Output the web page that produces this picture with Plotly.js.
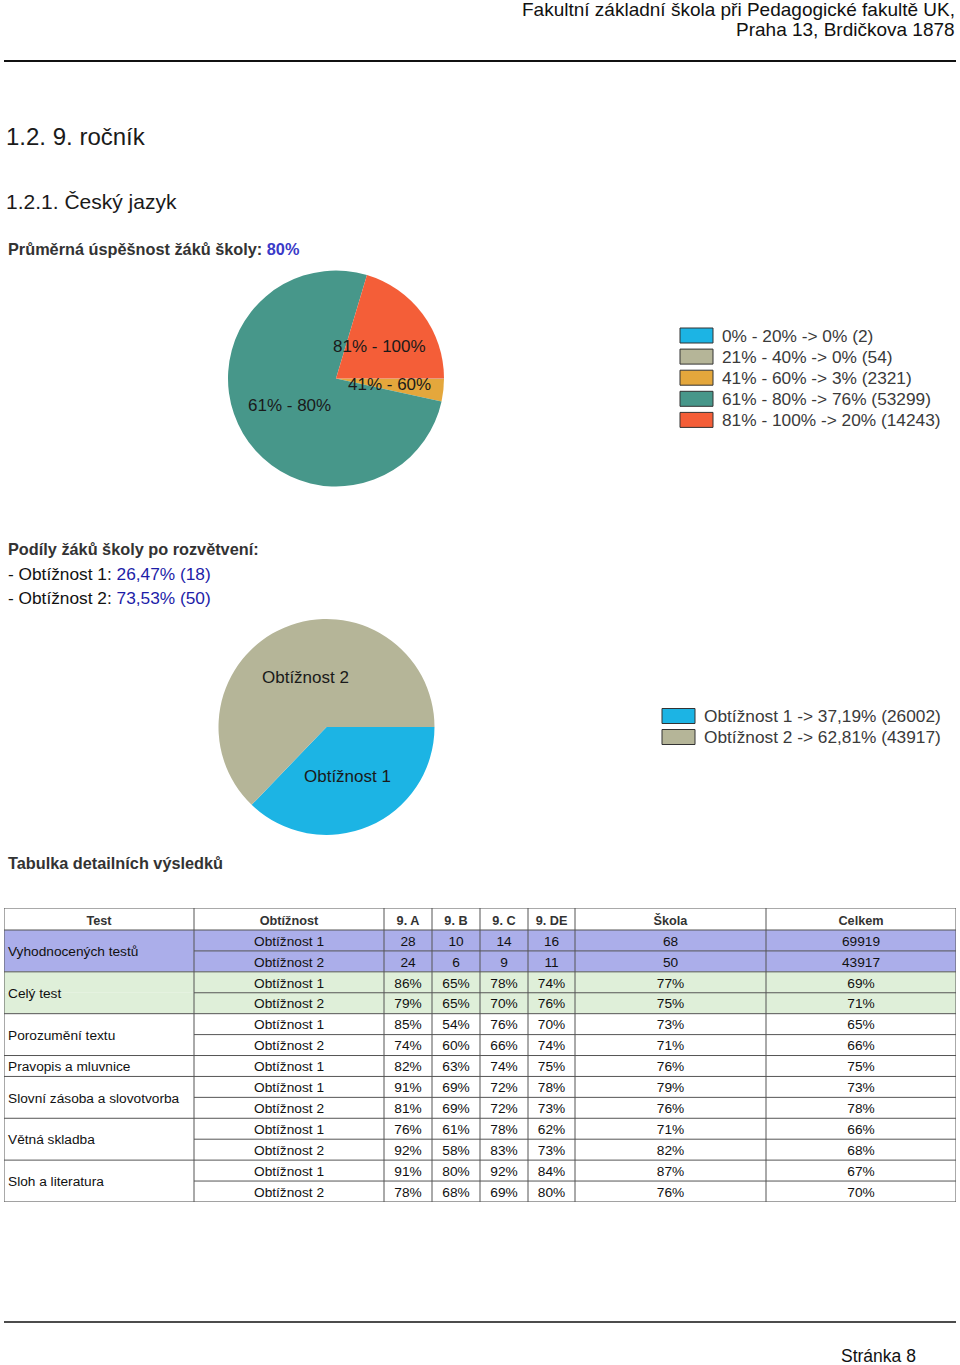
<!DOCTYPE html>
<html><head><meta charset="utf-8">
<script src="https://cdn.plot.ly/plotly-3.0.1.min.js"></script>
<style>html,body{margin:0;padding:0;background:#fff;}#chart{width:960px;height:1365px;}</style>
</head><body><div id="chart"></div>
<script>
// ---------- texts ----------
const pageHeader = ["Fakultní základní škola při Pedagogické fakultě UK,", "Praha 13, Brdičkova 1878"];
const sectionTitle = "1.2. 9. ročník";
const subjectTitle = "1.2.1. Český jazyk";
const avgLabel = "Průměrná úspěšnost žáků školy:";
const avgValue = "80%";
const shareTitle = "Podíly žáků školy po rozvětvení:";
const shareLabels = ["Obtížnost 1", "Obtížnost 2"];
const sharePct = ["26,47%", "73,53%"];
const shareCounts = [18, 50];
const tableTitle = "Tabulka detailních výsledků";
const pageLabel = "Stránka 8";

// ---------- pie 1 ----------
const bins = ["0% - 20%", "21% - 40%", "41% - 60%", "61% - 80%", "81% - 100%"];
const binCounts = [2, 54, 2321, 53299, 14243];
const binColors = ["#1cb4e4", "#b5b598", "#e4a73c", "#47978a", "#f45e38"];

// ---------- pie 2 ----------
const levels = ["Obtížnost 1", "Obtížnost 2"];
const levelCounts = [26002, 43917];
const levelColors = ["#1cb4e4", "#b5b598"];

// ---------- table ----------
const headers = ["Test", "Obtížnost", "9. A", "9. B", "9. C", "9. DE", "Škola", "Celkem"];
const rowTest = ["Vyhodnocených testů", "Vyhodnocených testů", "Celý test", "Celý test",
  "Porozumění textu", "Porozumění textu", "Pravopis a mluvnice",
  "Slovní zásoba a slovotvorba", "Slovní zásoba a slovotvorba",
  "Větná skladba", "Větná skladba", "Sloh a literatura", "Sloh a literatura"];
const rowLevel = ["Obtížnost 1", "Obtížnost 2", "Obtížnost 1", "Obtížnost 2", "Obtížnost 1", "Obtížnost 2",
  "Obtížnost 1", "Obtížnost 1", "Obtížnost 2", "Obtížnost 1", "Obtížnost 2", "Obtížnost 1", "Obtížnost 2"];
const col9A  = ["28", "24", "86%", "79%", "85%", "74%", "82%", "91%", "81%", "76%", "92%", "91%", "78%"];
const col9B  = ["10", "6", "65%", "65%", "54%", "60%", "63%", "69%", "69%", "61%", "58%", "80%", "68%"];
const col9C  = ["14", "9", "78%", "70%", "76%", "66%", "74%", "72%", "72%", "78%", "83%", "92%", "69%"];
const col9DE = ["16", "11", "74%", "76%", "70%", "74%", "75%", "78%", "73%", "62%", "73%", "84%", "80%"];
const colSkola  = ["68", "50", "77%", "75%", "73%", "71%", "76%", "79%", "76%", "71%", "82%", "87%", "76%"];
const colCelkem = ["69919", "43917", "69%", "71%", "65%", "66%", "75%", "73%", "78%", "66%", "68%", "67%", "70%"];
const groupFill = {"Vyhodnocených testů": "#abaeea", "Celý test": "#dfefd9"};

// ---------- layout helpers ----------
const W = 960, H = 1365;
const px = x => x / W, py = y => 1 - y / H;
const FONT = "Liberation Sans, Arial, Helvetica, sans-serif";
const data = [], shapes = [], annotations = [];

function txt(x, y, text, size, opts) {
  annotations.push(Object.assign({
    xref: "paper", yref: "paper", x: px(x), y: py(y), text: text, showarrow: false,
    xanchor: "left", yanchor: "middle", font: {family: FONT, size: size, color: "#111"}
  }, opts || {}));
}

function addPie(cx, cy, r, labels, values, colors, sliceLabels) {
  data.push({
    type: "pie", labels: labels, values: values, sort: false, direction: "clockwise", rotation: 90,
    marker: {colors: colors, line: {width: 0}}, textinfo: "none", hoverinfo: "none", showlegend: false,
    domain: {x: [px(cx - r), px(cx + r)], y: [py(cy + r), py(cy - r)]}
  });
  const total = values.reduce((a, b) => a + b, 0);
  let cum = 0;
  values.forEach((v, i) => {
    const f = v / total;
    const mid = (90 + (cum + f / 2) * 360) * Math.PI / 180;
    cum += f;
    if (Math.round(f * 100) > 0) {
      txt(cx + 0.5 * r * Math.sin(mid), cy - 0.5 * r * Math.cos(mid), sliceLabels[i], 17,
          {xanchor: "center", font: {family: FONT, size: 17, color: "#1a1a1a"}});
    }
  });
  return total;
}

function addLegend(x, y0, step, boxW, colors, texts) {
  texts.forEach((t, i) => {
    const yc = y0 + i * step;
    shapes.push({type: "rect", xref: "paper", yref: "paper", x0: px(x), x1: px(x + boxW),
      y0: py(yc + 7.5), y1: py(yc - 7.5), fillcolor: colors[i], line: {color: "#333", width: 1}});
    txt(x + boxW + 7, yc, t, 17.3, {font: {family: FONT, size: 17.3, color: "#3a3a3a"}});
  });
}

// ---------- page texts ----------
txt(957, 10, pageHeader[0], 19, {xanchor: "right"});
txt(957, 29, pageHeader[1], 19, {xanchor: "right"});
shapes.push({type: "line", xref: "paper", yref: "paper", x0: px(4), x1: px(956), y0: py(61), y1: py(61), line: {color: "#111", width: 2}});
txt(4, 137, sectionTitle, 24, {font: {family: FONT, size: 24, color: "#1a1a1a"}});
txt(4, 201, subjectTitle, 21, {font: {family: FONT, size: 21, color: "#1a1a1a"}});
txt(6, 249, "<b>" + avgLabel + " <span style=\"color:#3a3ac8\">" + avgValue + "</span></b>", 16.3,
    {font: {family: FONT, size: 16.3, color: "#333"}});
txt(6, 549, "<b>" + shareTitle + "</b>", 16.3, {font: {family: FONT, size: 16.3, color: "#333"}});
shareLabels.forEach((l, i) => {
  txt(6, 574 + i * 24, "- " + l + ": <span style=\"color:#1d1da8\">" + sharePct[i] + " (" + shareCounts[i] + ")</span>", 17.3);
});
txt(6, 863, "<b>" + tableTitle + "</b>", 16.3, {font: {family: FONT, size: 16.3, color: "#333"}});
shapes.push({type: "line", xref: "paper", yref: "paper", x0: px(4), x1: px(956), y0: py(1322), y1: py(1322), line: {color: "#111", width: 1.5}});
txt(918, 1356, pageLabel, 17.5, {xanchor: "right"});

// ---------- pies ----------
const total1 = addPie(336, 378.5, 108, bins, binCounts, binColors, bins);
addLegend(680, 335.5, 21.1, 33, binColors,
  bins.map((b, i) => b + " -> " + Math.round(binCounts[i] / total1 * 100) + "% (" + binCounts[i] + ")"));

const total2 = addPie(326.5, 727, 108, levels, levelCounts, levelColors, levels);
addLegend(662, 716, 21, 33, levelColors,
  levels.map((l, i) => l + " -> " + (levelCounts[i] / total2 * 100).toFixed(2).replace(".", ",") + "% (" + levelCounts[i] + ")"));

// ---------- table ----------
const colW = [190, 190, 48, 48, 48, 47, 191, 190];
const headerH = 22, rowH = 20.92, textDrop = 1.8;
const edges = [0]; colW.forEach(w => edges.push(edges[edges.length - 1] + w));
const tableW = edges[edges.length - 1];
const nRows = rowTest.length;
const tableH = headerH + nRows * rowH;
const rowTop = r => headerH + r * rowH;
const rowMid = r => headerH + (r + 0.5) * rowH + textDrop;
const colMid = c => (edges[c] + edges[c + 1]) / 2;

// fills
rowTest.forEach((t, r) => {
  if (groupFill[t]) shapes.push({type: "rect", xref: "x", yref: "y", layer: "below",
    x0: 0, x1: tableW, y0: rowTop(r), y1: rowTop(r + 1), fillcolor: groupFill[t], line: {width: 0}});
});
// grid
const gridColor = "#555";
edges.forEach(x => shapes.push({type: "line", xref: "x", yref: "y", x0: x, x1: x, y0: 0, y1: tableH, line: {color: gridColor, width: 1}}));
shapes.push({type: "line", xref: "x", yref: "y", x0: 0, x1: tableW, y0: 0, y1: 0, line: {color: gridColor, width: 1}});
shapes.push({type: "line", xref: "x", yref: "y", x0: 0, x1: tableW, y0: headerH, y1: headerH, line: {color: gridColor, width: 1}});
for (let r = 1; r <= nRows; r++) {
  const full = r === nRows || rowTest[r] !== rowTest[r - 1];
  shapes.push({type: "line", xref: "x", yref: "y", x0: full ? 0 : edges[1], x1: tableW,
    y0: rowTop(r), y1: rowTop(r), line: {color: gridColor, width: 1}});
}
// header text
data.push({type: "scatter", mode: "text", xaxis: "x", yaxis: "y", cliponaxis: false, hoverinfo: "skip", showlegend: false,
  x: headers.map((h, c) => colMid(c)), y: headers.map(() => headerH / 2 + 2.5), text: headers,
  textposition: "middle center", textfont: {family: FONT, size: 12.7, color: "#333", weight: "bold"}});
// group labels
const groups = [];
rowTest.forEach((t, r) => {
  if (r === 0 || t !== rowTest[r - 1]) groups.push({name: t, start: r, end: r});
  else groups[groups.length - 1].end = r;
});
data.push({type: "scatter", mode: "text", xaxis: "x", yaxis: "y", cliponaxis: false, hoverinfo: "skip", showlegend: false,
  x: groups.map(() => edges[0] + 4), y: groups.map(g => (rowTop(g.start) + rowTop(g.end + 1)) / 2 + textDrop),
  text: groups.map(g => g.name), textposition: "middle right", textfont: {family: FONT, size: 13.7, color: "#111"}});
// body columns
[rowLevel, col9A, col9B, col9C, col9DE, colSkola, colCelkem].forEach((col, k) => {
  const c = k + 1;
  data.push({type: "scatter", mode: "text", xaxis: "x", yaxis: "y", cliponaxis: false, hoverinfo: "skip", showlegend: false,
    x: col.map(() => colMid(c)), y: col.map((v, r) => rowMid(r)), text: col,
    textposition: "middle center", textfont: {family: FONT, size: 13.7, color: "#111"}});
});

const layout = {
  width: W, height: H, margin: {l: 0, r: 0, t: 0, b: 0, pad: 0},
  paper_bgcolor: "#fff", plot_bgcolor: "rgba(0,0,0,0)", showlegend: false,
  font: {family: FONT, color: "#111"},
  xaxis: {domain: [px(4), px(956)], range: [0, tableW], visible: false, fixedrange: true},
  yaxis: {domain: [py(908 + tableH), py(908)], range: [tableH, 0], visible: false, fixedrange: true},
  shapes: shapes, annotations: annotations
};
Plotly.newPlot("chart", data, layout, {staticPlot: true, displayModeBar: false});
</script></body></html>
